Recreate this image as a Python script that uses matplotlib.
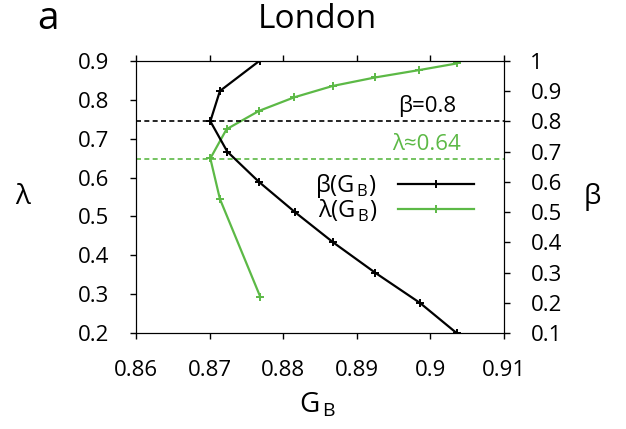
import numpy as np
import matplotlib.pyplot as plt

plt.rcParams['font.family'] = ['Open Sans', 'DejaVu Sans']
plt.rcParams['mathtext.fontset'] = 'custom'
plt.rcParams['mathtext.rm'] = 'Open Sans'

# beta(G_B), read against the right axis
gb_beta = [0.8768, 0.8714, 0.8701, 0.8724, 0.8767, 0.8816, 0.8868, 0.8925, 0.8986, 0.9036]
beta = [1.0, 0.9, 0.8, 0.7, 0.6, 0.5, 0.4, 0.3, 0.2, 0.1]

# lambda(G_B), read against the left axis
gb_lam = [0.8769, 0.8714, 0.8701, 0.8723, 0.8767, 0.8815, 0.8867, 0.8925, 0.8985, 0.9036]
lam = [0.293, 0.545, 0.649, 0.724, 0.771, 0.806, 0.835, 0.857, 0.876, 0.893]

beta_ref = 0.8
lam_ref = 0.648

green = '#5cb946'

fig = plt.figure(figsize=(6.26, 4.29), dpi=100)
ax = fig.add_axes([136/626, 1-333.3/429, 368/626, 272.6/429])
ax2 = ax.twinx()

ax.set_xlim(0.86, 0.91)
ax.set_ylim(0.2, 0.9)
ax2.set_ylim(0.1, 1.0)

ax.axhline(lam_ref, color=green, ls=(0, (3, 2)), lw=1.2)
ax2.axhline(beta_ref, color='black', ls=(0, (3, 2)), lw=1.2)

ax2.plot(gb_beta, beta, color='black', lw=1.6, marker='+', ms=6, mew=1.4,
         label=r'β(G$_{\mathregular{\,B}}$)')
ax.plot(gb_lam, lam, color=green, lw=1.6, marker='+', ms=6, mew=1.4,
        label=r'λ(G$_{\mathregular{\,B}}$)')

ax.set_xticks(np.arange(0.86, 0.9101, 0.01))
ax.set_xticklabels(['0.86', '0.87', '0.88', '0.89', '0.9', '0.91'])
ax.set_yticks(np.arange(0.2, 0.901, 0.1))
ax.set_yticklabels(['0.2', '0.3', '0.4', '0.5', '0.6', '0.7', '0.8', '0.9'])
ax2.set_yticks(np.arange(0.1, 1.001, 0.1))
ax2.set_yticklabels(['0.1', '0.2', '0.3', '0.4', '0.5', '0.6', '0.7', '0.8', '0.9', '1'])

ax.tick_params(axis='both', direction='out', length=4, width=1, labelsize=16, pad=15, top=True)
ax2.tick_params(axis='y', direction='out', length=4, width=1, labelsize=16, pad=15)

ax2.text(0.8995, 0.815, 'β=0.8', fontsize=16, ha='center', va='bottom')
ax.text(0.8995, 0.657, 'λ≈0.64', fontsize=16, color=green, ha='center', va='bottom')

h1, l1 = ax2.get_legend_handles_labels()
h2, l2 = ax.get_legend_handles_labels()
ax2.legend(h1 + h2, l1 + l2, loc='upper left', bbox_to_anchor=(0.43, 0.67),
           frameon=False, markerfirst=False, fontsize=17, handlelength=3.2,
           labelspacing=-0.1, handletextpad=0.9)

fig.text(23/626, 1-197/429, 'λ', fontsize=20, ha='center', va='center')
fig.text(592/626, 1-197/429, 'β', fontsize=20, ha='center', va='center')
fig.text(318/626, 1-405/429, r'G$_{\mathregular{\,B}}$', fontsize=20, ha='center', va='center')
fig.text(317/626, 1-19/429, 'London', fontsize=24, ha='center', va='center')
fig.text(48/626, 1-29/429, 'a', fontsize=28, ha='center', va='baseline')

fig.savefig('out.png', dpi=100)
